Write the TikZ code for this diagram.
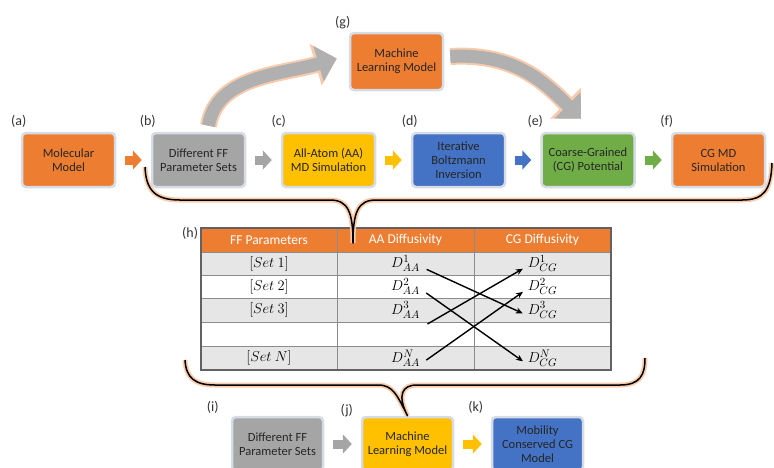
\documentclass[tikz,border=0pt]{standalone}
\usepackage[no-math]{fontspec}
\setmainfont{Carlito}
\usetikzlibrary{arrows.meta,positioning}
\definecolor{officeorange}{HTML}{ED7D31}
\definecolor{officegray}{HTML}{A5A5A5}
\definecolor{officeyellow}{HTML}{FFC000}
\definecolor{officeblue}{HTML}{4472C4}
\definecolor{officegreen}{HTML}{70AD47}
\definecolor{halo}{HTML}{D6DCE5}
\definecolor{glow}{HTML}{F8CBAD}
\definecolor{rowgray}{HTML}{E7E6E6}
\definecolor{gridgray}{HTML}{8C8C8C}
\definecolor{txtdark}{HTML}{262626}

\begin{document}
\begin{tikzpicture}[
    x=1pt, y=-1pt,
    every node/.style={font=\fontsize{12.5}{14}\selectfont},
    box/.style={rectangle, rounded corners=4pt, minimum width=93pt, minimum height=54pt,
                align=center, text=txtdark, draw=halo, line width=2.5pt},
    lbl/.style={font=\fontsize{14}{14}\selectfont, text=black!80, inner sep=1pt, anchor=south},
    blk/.style={line width=9pt, -{Triangle[length=9pt,width=19pt]}, shorten <=9pt, shorten >=9pt},
    bigarrow/.style={draw=gray!62, line width=13pt, -{Triangle[length=19pt,width=36pt]},
                     preaction={draw=glow, line width=17pt, -{Triangle[length=22pt,width=42pt]}}},
    brace/.style={draw=black, line width=1.5pt, line join=round,
                  preaction={draw=glow, line width=5pt}},
    hdr/.style={text=white, font=\fontsize{13.5}{15}\selectfont},
    cell/.style={font=\fontsize{15}{17}\selectfont, inner sep=3pt},
    xarr/.style={-{Stealth[length=7pt,width=6pt]}, line width=1.4pt, shorten <=4pt, shorten >=2pt}
]
    \useasboundingbox (0,0) rectangle (774,467);
    \clip (0,0) rectangle (774,467);

    % === TOP ROW ===
    \node[box, fill=officeorange, label={[lbl, xshift=-2pt, yshift=3pt]north west:(a)}] (mol) at (68.5,160) {Molecular\\Model};
    \node[box, fill=officegray, label={[lbl, xshift=-3pt, yshift=3pt]north west:(b)}] (ffsets) at (198.5,160) {Different FF\\Parameter Sets};
    \node[box, fill=officeyellow, label={[lbl, xshift=-2pt, yshift=3pt]north west:(c)}] (aamd) at (328.5,160) {All-Atom (AA)\\MD Simulation};
    \node[box, fill=officeblue, label={[lbl, xshift=-1pt, yshift=3pt]north west:(d)}] (ibi) at (458.5,160) {Iterative\\Boltzmann\\Inversion};
    \node[box, fill=officegreen, label={[lbl, xshift=-5pt, yshift=3pt]north west:(e)}] (cgpot) at (588,160) {Coarse-Grained\\(CG) Potential};
    \node[box, fill=officeorange, label={[lbl, xshift=-4pt, yshift=3pt]north west:(f)}] (cgmd) at (718.5,160) {CG MD\\Simulation};

    \draw[blk, officeorange] (mol.east) -- (ffsets.west);
    \draw[blk, officegray] (ffsets.east) -- (aamd.west);
    \draw[blk, officeyellow] (aamd.east) -- (ibi.west);
    \draw[blk, officeblue] (ibi.east) -- (cgpot.west);
    \draw[blk, officegreen] (cgpot.east) -- (cgmd.west);

    % === MACHINE LEARNING (TOP) ===
    \node[box, fill=officeorange, minimum height=57pt, label={[lbl, xshift=-6pt, yshift=2pt]north west:(g)}] (mltop) at (396.5,61.5) {Machine\\Learning Model};

    \draw[bigarrow] ([xshift=10pt,yshift=6pt]ffsets.north) .. controls +(8,-50) and +(-55,16) .. ([xshift=-12pt,yshift=3pt]mltop.west);
    \draw[bigarrow] ([xshift=6pt,yshift=5pt]mltop.east) .. controls +(65,-4) and +(-35,-35) .. ([xshift=-7pt,yshift=13pt]cgpot.north);

    % === TABLE ===
    \fill[officeorange] (201,228) rectangle (611,252);
    \foreach \yt/\yb/\c in {252/275/rowgray, 275/298/white, 298/322/rowgray, 322/346/white, 346/370/rowgray}
        \fill[\c] (201,\yt) rectangle (611,\yb);
    \foreach \yl in {252,275,298,322,346}
        \draw[gridgray, line width=1pt] (201,\yl) -- (611,\yl);
    \foreach \xl in {337,474}
        \draw[gridgray, line width=1pt] (\xl,228) -- (\xl,370);
    \node[draw=gridgray!70!black, line width=1.5pt, minimum width=410pt, minimum height=142pt, inner sep=0pt,
          label={[lbl, anchor=north east, xshift=-1pt, yshift=1pt]north west:(h)}] (tab) at (406,299) {};

    \node[hdr] (hff) at (269,240) {FF Parameters};
    \node[hdr] (haa) at (405.5,240) {AA Diffusivity};
    \node[hdr] (hcg) at (542.5,240) {CG Diffusivity};

    \node[cell] (s1) at (269,263.5) {$[Set\ 1]$};
    \node[cell] (s2) at (269,286.5) {$[Set\ 2]$};
    \node[cell] (s3) at (269,310) {$[Set\ 3]$};
    \node[cell] (sN) at (269,358) {$[Set\ N]$};

    \node[cell] (aa1) at (405.5,263.5) {$D_{AA}^{1}$};
    \node[cell] (aa2) at (405.5,286.5) {$D_{AA}^{2}$};
    \node[cell] (aa3) at (405.5,310) {$D_{AA}^{3}$};
    \coordinate (aa4) at (424,326);
    \node[cell] (aaN) at (405.5,358) {$D_{AA}^{N}$};

    \node[cell] (cg1) at (542.5,263.5) {$D_{CG}^{1}$};
    \node[cell] (cg2) at (542.5,286.5) {$D_{CG}^{2}$};
    \node[cell] (cg3) at (542.5,310) {$D_{CG}^{3}$};
    \node[cell] (cgN) at (542.5,358) {$D_{CG}^{N}$};

    % crossing maps
    \draw[xarr] (aa1.base east) -- (cg3.base west);
    \draw[xarr] (aa2.base east) -- (cgN.base west);
    \draw[xarr] (aa4) -- (cg1.base west);
    \draw[xarr] (aaN.base east) -- (cg2.base west);

    % === BOTTOM ROW ===
    \node[box, fill=officegray, minimum width=91pt, label={[lbl, xshift=-18pt, yshift=1pt]north west:(i)}] (ffsets2) at (277.5,444) {Different FF\\Parameter Sets};
    \node[box, fill=officeyellow, minimum width=91pt, label={[lbl, xshift=-14pt, yshift=-2pt]north west:(j)}] (mlbot) at (407.5,444) {Machine\\Learning Model};
    \node[box, fill=officeblue, minimum width=91pt, label={[lbl, xshift=-15pt, yshift=1pt]north west:(k)}] (cons) at (537.5,444) {Mobility\\Conserved CG\\Model};

    \draw[blk, officegray] (ffsets2.east) -- (mlbot.west);
    \draw[blk, officeyellow] (mlbot.east) -- (cons.west);

    % === BRACES ===
    \draw[brace] (145,167) .. controls (146,190) and (155,200) .. (180,200) -- (330,200)
        .. controls (348,200) and (353,212) .. (353,243)
        .. controls (353,212) and (358,200) .. (376,200) -- (742,200)
        .. controls (764,200) and (771,190) .. (772,163);
    \draw[brace] (185,360) .. controls (186,378) and (195,385) .. (215,385) -- (378,385)
        .. controls (393,385) and (397,395) .. (mlbot.north)
        .. controls (397,395) and (402,385) .. (417,385) -- (620,385)
        .. controls (640,385) and (645,375) .. (645,358);
\end{tikzpicture}
\end{document}
